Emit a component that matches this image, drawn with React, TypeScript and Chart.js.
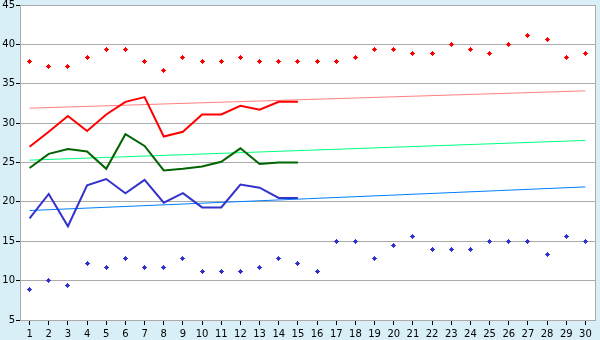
import React, { useEffect, useRef } from 'react';
import { Chart, registerables } from 'chart.js';

Chart.register(...registerables);

const days = ['1', '2', '3', '4', '5', '6', '7', '8', '9', '10', '11', '12', '13', '14', '15', '16', '17', '18', '19', '20', '21', '22', '23', '24', '25', '26', '27', '28', '29', '30'];

const highPoints = [37.8, 37.2, 37.2, 38.3, 39.4, 39.4, 37.8, 36.7, 38.3, 37.8, 37.8, 38.3, 37.8, 37.8, 37.8, 37.8, 37.8, 38.3, 39.4, 39.4, 38.9, 38.9, 40.0, 39.4, 38.9, 40.0, 41.1, 40.6, 38.3, 38.9];
const lowPoints = [8.9, 10.0, 9.4, 12.2, 11.7, 12.8, 11.7, 11.7, 12.8, 11.1, 11.1, 11.1, 11.7, 12.8, 12.2, 11.1, 15.0, 15.0, 12.8, 14.4, 15.6, 13.9, 13.9, 13.9, 15.0, 15.0, 15.0, 13.3, 15.6, 15.0];

const highLine = [27.0, 28.9, 30.9, 29.0, 31.1, 32.7, 33.3, 28.3, 28.9, 31.1, 31.1, 32.2, 31.7, 32.7, 32.7];
const midLine = [24.3, 26.1, 26.7, 26.4, 24.2, 28.6, 27.1, 24.0, 24.2, 24.5, 25.1, 26.8, 24.8, 25.0, 25.0];
const lowLine = [17.9, 21.0, 16.9, 22.1, 22.9, 21.1, 22.8, 19.9, 21.1, 19.3, 19.3, 22.2, 21.8, 20.5, 20.5];

const trendDays = ['1', '30'];
const highTrend = [31.9, 34.1];
const midTrend = [25.3, 27.8];
const lowTrend = [18.9, 21.9];

const yTicks = [5, 10, 15, 20, 25, 30, 35, 40, 45];

function makeMarker(color: string) {
  const c = document.createElement('canvas');
  c.width = 5;
  c.height = 5;
  const ctx = c.getContext('2d')!;
  ctx.fillStyle = color;
  ctx.fillRect(2, 0, 1, 5);
  ctx.fillRect(1, 1, 3, 3);
  ctx.fillRect(0, 2, 5, 1);
  return c;
}

const pad0 = (s: any) => {
  s.paddingLeft = 0;
  s.paddingRight = 0;
  s.paddingTop = 0;
  s.paddingBottom = 0;
};

const bgPlugin = {
  id: 'bgPlugin',
  beforeDraw(chart: any) {
    const { ctx, width, height, chartArea } = chart;
    ctx.save();
    ctx.fillStyle = '#d9eff7';
    ctx.fillRect(0, 0, width, height);
    ctx.fillStyle = '#ffffff';
    ctx.fillRect(chartArea.left, chartArea.top, chartArea.right - chartArea.left, chartArea.bottom - chartArea.top);
    ctx.restore();
  },
  beforeDatasetsDraw(chart: any) {
    const { ctx, chartArea } = chart;
    ctx.save();
    ctx.strokeStyle = '#aaaaaa';
    ctx.lineWidth = 1;
    ctx.beginPath();
    ctx.moveTo(Math.round(chartArea.right) + 0.5, chartArea.top);
    ctx.lineTo(Math.round(chartArea.right) + 0.5, chartArea.bottom + 1);
    ctx.stroke();
    ctx.restore();
    ctx.imageSmoothingEnabled = false;
  },
};

const tickFont = { family: 'DejaVu Sans', size: 10 };

export default function App() {
  const ref = useRef<HTMLCanvasElement>(null);

  useEffect(() => {
    if (!ref.current) return;
    const redMarker = makeMarker('#ff0000');
    const blueMarker = makeMarker('#3333cc');
    const trend = (vals: number[]) => trendDays.map((d, i) => ({ x: d, y: vals[i] }));
    const chart = new Chart(ref.current, {
      type: 'line',
      data: {
        labels: days,
        datasets: [
          { data: highPoints, showLine: false, pointStyle: redMarker as any, pointRadius: 3, borderWidth: 0, borderColor: '#ff0000', backgroundColor: '#ff0000' },
          { data: lowPoints, showLine: false, pointStyle: blueMarker as any, pointRadius: 3, borderWidth: 0, borderColor: '#3333cc', backgroundColor: '#3333cc' },
          { data: highLine, borderColor: '#ff0000', borderWidth: 2, pointRadius: 0, tension: 0, fill: false },
          { data: midLine, borderColor: '#006400', borderWidth: 2, pointRadius: 0, tension: 0, fill: false },
          { data: lowLine, borderColor: '#3333cc', borderWidth: 2, pointRadius: 0, tension: 0, fill: false },
          { data: trend(highTrend) as any, borderColor: '#ff8080', borderWidth: 1, pointRadius: 0, tension: 0, fill: false },
          { data: trend(midTrend) as any, borderColor: '#00ff80', borderWidth: 1, pointRadius: 0, tension: 0, fill: false },
          { data: trend(lowTrend) as any, borderColor: '#0080ff', borderWidth: 1, pointRadius: 0, tension: 0, fill: false },
        ],
      },
      options: {
        responsive: false,
        animation: false,
        events: [],
        layout: { padding: { top: 5, right: 5, left: 0, bottom: 0 } },
        plugins: { legend: { display: false }, tooltip: { enabled: false } },
        scales: {
          x: {
            type: 'category',
            offset: true,
            grid: { display: true, drawOnChartArea: false, drawTicks: true, tickLength: 5, offset: false, color: '#000000', tickColor: '#000000' },
            border: { display: true, color: '#aaaaaa' },
            ticks: { color: '#000000', font: tickFont, padding: 3, maxRotation: 0, autoSkip: false },
            afterFit(s: any) {
              s.height = 20;
              pad0(s);
            },
          },
          y: {
            min: 5,
            max: 45,
            afterBuildTicks(s: any) {
              s.ticks = yTicks.map((v) => ({ value: v }));
            },
            grid: { color: '#aaaaaa', tickLength: 4, tickColor: '#000000' },
            border: { display: true, color: '#aaaaaa' },
            ticks: { color: '#000000', font: tickFont, padding: 1 },
            afterFit(s: any) {
              s.width = 20;
              pad0(s);
            },
          },
        },
      },
      plugins: [bgPlugin],
    });
    return () => chart.destroy();
  }, []);

  return (
    <div style={{ position: 'absolute', left: 0, top: 0, width: 600, height: 340 }}>
      <canvas ref={ref} width={600} height={340} style={{ display: 'block', width: 600, height: 340 }} />
    </div>
  );
}
